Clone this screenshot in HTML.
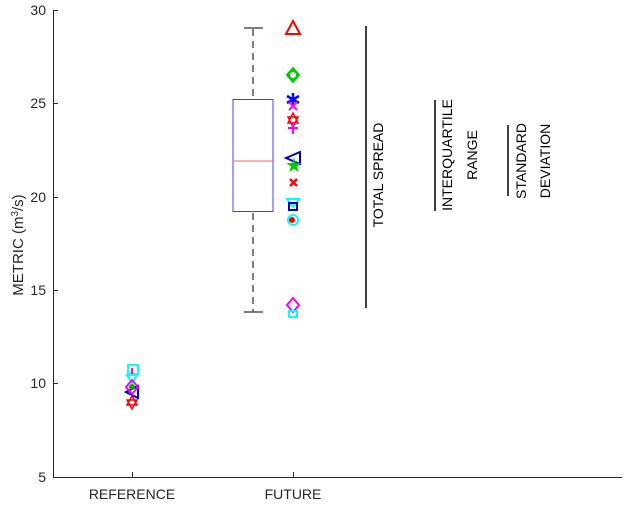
<!DOCTYPE html>
<html><head><style>body{margin:0;background:#fff}svg{display:block}text{font-family:"Liberation Sans",sans-serif}</style></head><body>
<svg width="630" height="505" xmlns="http://www.w3.org/2000/svg">
<rect width="630" height="505" fill="#fff"/>
<g stroke="#262626" stroke-width="1" fill="none">
<line x1="53.5" y1="10" x2="53.5" y2="477"/>
<line x1="53" y1="477.5" x2="622" y2="477.5"/>
<line x1="53" y1="10.5" x2="58" y2="10.5"/><line x1="53" y1="103.5" x2="58" y2="103.5"/><line x1="53" y1="197.5" x2="58" y2="197.5"/><line x1="53" y1="290.5" x2="58" y2="290.5"/><line x1="53" y1="383.5" x2="58" y2="383.5"/>
<line x1="132.5" y1="477" x2="132.5" y2="472"/><line x1="293.5" y1="477" x2="293.5" y2="472"/>
</g>
<g font-size="14" fill="#262626" text-anchor="end">
<text x="46" y="15">30</text><text x="46" y="108">25</text><text x="46" y="202">20</text><text x="46" y="295">15</text><text x="46" y="388">10</text><text x="46" y="482">5</text>
</g>
<g font-size="14" fill="#262626" text-anchor="middle">
<text x="132" y="499">REFERENCE</text><text x="293" y="499">FUTURE</text>
</g>
<text transform="translate(23,245) rotate(-90)" font-size="15" fill="#262626" text-anchor="middle">METRIC (m<tspan font-size="10" dy="-5">3</tspan><tspan dy="5">/s)</tspan></text>
<g stroke="#555" stroke-width="1.5" stroke-dasharray="7,5" fill="none">
<line x1="253" y1="29" x2="253" y2="99"/><line x1="253" y1="213" x2="253" y2="312"/>
</g>
<g stroke="#555" stroke-width="1.5"><line x1="244" y1="28" x2="263" y2="28"/><line x1="244" y1="312" x2="263" y2="312"/></g>
<rect x="233" y="99.5" width="40" height="112" fill="none" stroke="#4040ff" stroke-width="1"/>
<line x1="233" y1="161" x2="273" y2="161" stroke="#ff6060" stroke-width="1"/>
<g fill="none" stroke-width="2">
<polygon points="293,21 286,34 300,34" stroke="#f00"/>
<polygon points="293,68 299,75 293,82 287,75" stroke="#0c0"/><circle cx="293" cy="75" r="4" stroke="#0c0"/>
<path d="M293,93 V106 M287,96 L299,103 M299,96 L287,103" stroke="#00f" stroke-width="2.5"/>
<path d="M289,102 L297,110 M297,102 L289,110" stroke="#f0f"/>
<path d="M293,113 L298,123 L288,123Z M293,127 L288,117 L298,117Z" stroke="#f00" stroke-width="1.5"/>
<path d="M293,122 V134 M288,128 H298" stroke="#f0f"/>
<polygon points="286,158 300,152 300,164" stroke="#00c"/>
<text x="294" y="172" font-size="20" fill="#0c0" stroke="none" text-anchor="middle">★</text>
<path d="M290,179 L297,186 M297,179 L290,186" stroke="#f00" stroke-width="2.5"/>
<polygon points="287,199 299,199 293,207" stroke="#0ff"/>
<rect x="289" y="203" width="8" height="7" stroke="#00c"/>
<circle cx="293" cy="220" r="5" stroke="#0ff"/><circle cx="292" cy="220" r="3" fill="#f00" stroke="none"/>
<polygon points="293,298 299,305 293,312 287,305" stroke="#f0f"/>
<rect x="289" y="311" width="8" height="6" stroke="#0ff"/>
</g>
<g fill="none" stroke-width="2">
<rect x="128" y="365" width="10" height="9" stroke="#0ff"/>
<path d="M132,368 V376" stroke="#f0f"/>
<polygon points="127,375 137,375 132,383" stroke="#0ff"/>
<polygon points="126,392 138,386 138,398" stroke="#00c"/>
<polygon points="132,380 138,387 132,394 126,387" stroke="#f0f"/>
<circle cx="132" cy="387" r="3" fill="#0a0" stroke="none"/>
<path d="M132,396 L137,405 L127,405Z M132,409 L127,400 L137,400Z" stroke="#f00" stroke-width="1.5"/>
</g>
<g stroke="#000" stroke-width="1.5">
<line x1="366" y1="26" x2="366" y2="308"/>
<line x1="435" y1="100" x2="435" y2="211"/>
<line x1="508" y1="125" x2="508" y2="196"/>
</g>
<g font-size="14" fill="#000" text-anchor="middle">
<text transform="translate(383,175) rotate(-90)">TOTAL SPREAD</text>
<text transform="translate(452,155) rotate(-90)">INTERQUARTILE</text>
<text transform="translate(477,155) rotate(-90)">RANGE</text>
<text transform="translate(526,161) rotate(-90)">STANDARD</text>
<text transform="translate(550,161) rotate(-90)">DEVIATION</text>
</g>
</svg>
</body></html>
